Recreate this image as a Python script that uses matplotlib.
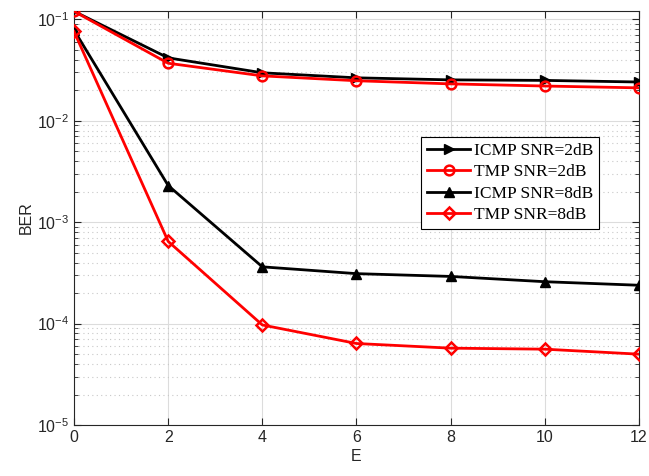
import matplotlib
matplotlib.use("Agg")
import matplotlib.pyplot as plt
from matplotlib.ticker import LogLocator, NullFormatter

E = [0, 2, 4, 6, 8, 10, 12]
icmp_2db = [0.12, 0.0417, 0.0297, 0.0265, 0.0253, 0.0250, 0.0241]
tmp_2db = [0.12, 0.0369, 0.0277, 0.0248, 0.0231, 0.0220, 0.0211]
icmp_8db = [0.0785, 0.0023, 0.000363, 0.000311, 0.000292, 0.000259, 0.000239]
tmp_8db = [0.0760, 0.000647, 9.7e-5, 6.37e-5, 5.73e-5, 5.6e-5, 5.0e-5]
labels = ["ICMP SNR=2dB", "TMP SNR=2dB", "ICMP SNR=8dB", "TMP SNR=8dB"]

plt.rcParams['font.family'] = ['Liberation Sans', 'DejaVu Sans']
fig = plt.figure(figsize=(6.49, 4.76), dpi=100)
ax = fig.add_axes([0.114, 0.107, 0.8706, 0.8705])

ax.semilogy(E, icmp_2db, color='black', lw=2, marker='>', ms=7, mfc='black', label=labels[0], zorder=3)
ax.semilogy(E, tmp_2db, color='red', lw=2, marker='o', ms=7, mfc='none', mew=1.8, label=labels[1], zorder=3)
ax.semilogy(E, icmp_8db, color='black', lw=2, marker='^', ms=7, mfc='black', label=labels[2], zorder=3)
ax.semilogy(E, tmp_8db, color='red', lw=2, marker='D', ms=6, mfc='none', mew=1.8, label=labels[3], zorder=3)

ax.set_xlim(0, 12)
ax.set_ylim(1e-5, 0.1216)
ax.set_xticks(E)
ax.yaxis.set_major_locator(LogLocator(base=10, numticks=10))
ax.yaxis.set_minor_locator(LogLocator(base=10, subs=range(2, 10), numticks=20))
ax.yaxis.set_minor_formatter(NullFormatter())

ax.grid(True, which='major', color='#dcdcdc', lw=0.8, ls='-')
ax.grid(True, which='minor', axis='y', color='#c8c8c8', lw=0.8, ls=(0, (1, 3)))
ax.set_axisbelow(True)
ax.tick_params(which='both', direction='in', top=True, right=True, labelsize=11.5, colors='#262626')
ax.tick_params(which='major', length=5)
ax.tick_params(which='minor', length=3)
for s in ax.spines.values():
    s.set_color('#262626')
    s.set_linewidth(0.8)

ax.set_xlabel('E', fontsize=11.5, color='#262626', labelpad=3)
ax.set_ylabel('BER', fontsize=11.5, color='#262626', labelpad=2)

leg = ax.legend(loc='upper left', bbox_to_anchor=(0.614, 0.696), prop={'family': 'Liberation Serif', 'size': 12.5},
                frameon=True, fancybox=False, edgecolor='black', framealpha=1, borderpad=0.35,
                labelspacing=0.3, handlelength=2.5, handletextpad=0.2, borderaxespad=0)
leg.get_frame().set_linewidth(0.8)

fig.savefig('out.png', dpi=100)
